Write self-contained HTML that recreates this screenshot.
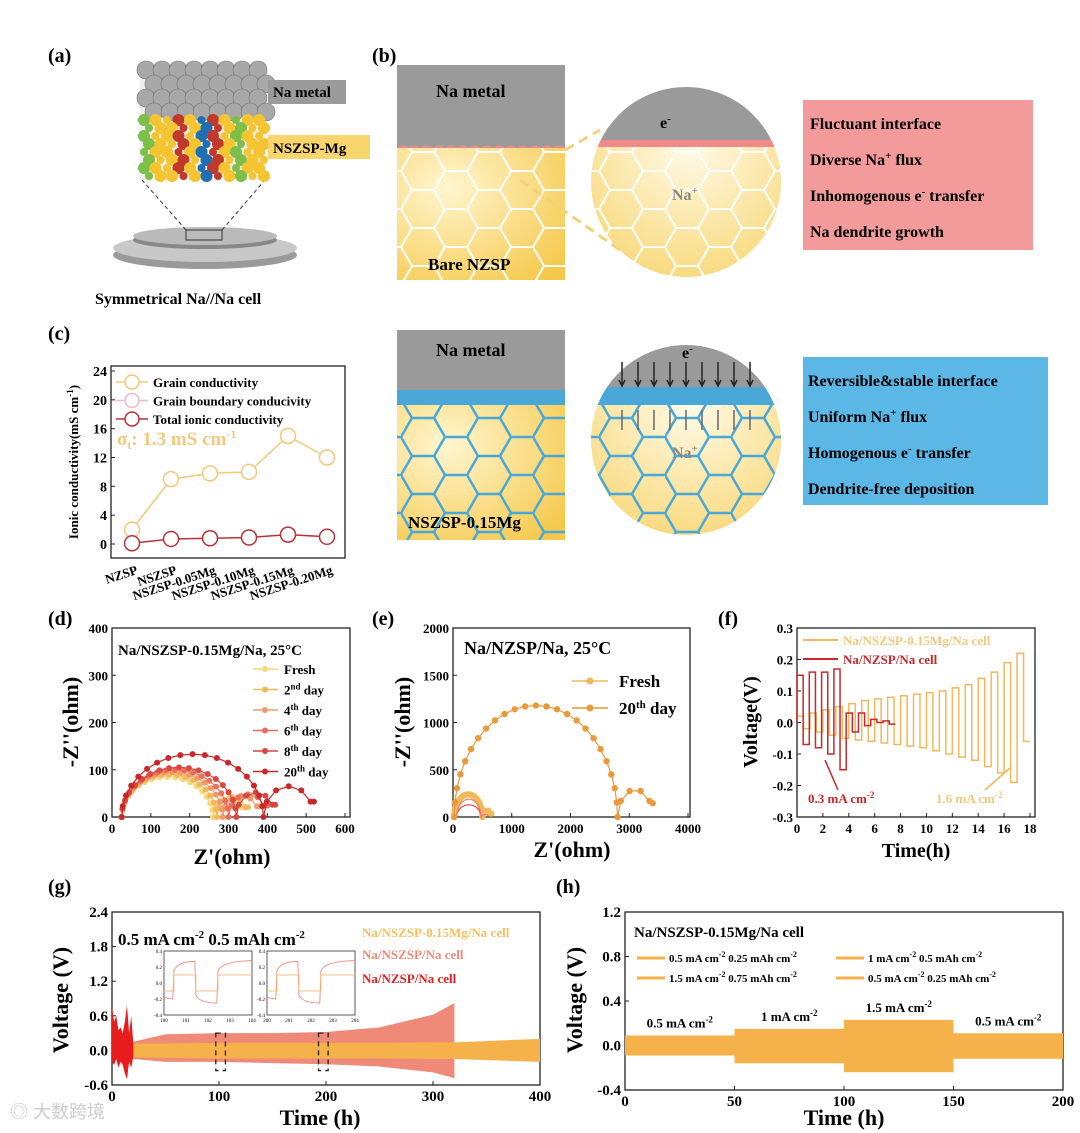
<!DOCTYPE html>
<html><head><meta charset="utf-8">
<style>
html,body{margin:0;padding:0;background:#fff;}
svg{display:block;font-family:"Liberation Serif",serif;}
.b{font-weight:bold;}
</style></head>
<body>
<svg id="fig" width="1080" height="1133" viewBox="0 0 1080 1133" xmlns="http://www.w3.org/2000/svg">
<defs>
<pattern id="hexY" width="66" height="38" patternUnits="userSpaceOnUse" x="5" y="0">
<path d="M0,19 L11,0 L33,0 L44,19 L33,38 L11,38 Z M44,19 L66,19" fill="none" stroke="#fff" stroke-width="2"/>
</pattern>
<pattern id="hexB" width="66" height="38" patternUnits="userSpaceOnUse" x="5" y="0">
<path d="M0,19 L11,0 L33,0 L44,19 L33,38 L11,38 Z M44,19 L66,19" fill="none" stroke="#4aa8d8" stroke-width="2.5"/>
</pattern>
<radialGradient id="yel" cx="0.3" cy="0.3" r="0.9"><stop offset="0" stop-color="#fff6d0"/><stop offset="1" stop-color="#f5c84a"/></radialGradient>
<radialGradient id="yel2" cx="0.5" cy="0.3" r="0.8"><stop offset="0" stop-color="#fffbe8"/><stop offset="1" stop-color="#f7d36a"/></radialGradient>
<clipPath id="c1"><circle cx="686" cy="182" r="95"/></clipPath>
<clipPath id="c2"><circle cx="686" cy="440" r="95"/></clipPath>
</defs>

<text x="48" y="62" font-size="20" class="b">(a)</text>
<text x="372" y="62" font-size="20" class="b">(b)</text>
<text x="48" y="340" font-size="20" class="b">(c)</text>
<text x="48" y="625" font-size="20" class="b">(d)</text>
<text x="372" y="625" font-size="20" class="b">(e)</text>
<text x="718" y="625" font-size="20" class="b">(f)</text>
<text x="48" y="893" font-size="20" class="b">(g)</text>
<text x="556" y="893" font-size="20" class="b">(h)</text>

<g id="pa">
<ellipse cx="205" cy="255" rx="92" ry="14" fill="#9a9a9a"/>
<ellipse cx="205" cy="248" rx="92" ry="14" fill="#c8c8c8"/>
<ellipse cx="205" cy="240" rx="72" ry="9" fill="#888"/>
<ellipse cx="205" cy="236" rx="72" ry="9" fill="#bbb"/>
<rect x="186" y="230" width="36" height="10" fill="none" stroke="#333"/>
<line x1="186" y1="230" x2="142" y2="180" stroke="#333" stroke-dasharray="4,3"/>
<line x1="222" y1="230" x2="265" y2="180" stroke="#333" stroke-dasharray="4,3"/>
<rect x="140" y="62" width="126" height="118" fill="#eee"/>
<g id="atoms"></g>
<rect x="268" y="80" width="78" height="24" fill="#9b9b9b"/>
<text x="273" y="97" font-size="15" class="b">Na metal</text>
<rect x="268" y="135" width="102" height="24" fill="#f9d56e"/>
<text x="273" y="153" font-size="15" class="b">NSZSP-Mg</text>
<text x="95" y="304" font-size="16" class="b">Symmetrical Na//Na cell</text>
</g>

<g>
<rect x="397" y="148" width="168" height="132" fill="url(#yel)"/>
<rect x="397" y="148" width="168" height="132" fill="url(#hexY)"/>
<rect x="397" y="65" width="168" height="83" fill="#9a9a9a"/>
<path d="M397,148 q6,-5 12,0 q6,-5 12,0 q6,-5 12,0 q6,-5 12,0 q6,-5 12,0 q6,-5 12,0 q6,-5 12,0 q6,-5 12,0 q6,-5 12,0 q6,-5 12,0 q6,-5 12,0 q6,-5 12,0 q6,-5 12,0 q6,-5 12,0" fill="#f08a8a"/>
<text x="436" y="97" font-size="18" class="b">Na metal</text>
<text x="428" y="270" font-size="17" class="b">Bare NZSP</text>
<line x1="565" y1="150" x2="600" y2="130" stroke="#f2d27a" stroke-width="3" stroke-dasharray="10,6"/>
<line x1="520" y1="180" x2="620" y2="250" stroke="#f2d27a" stroke-width="3" stroke-dasharray="10,6"/>
<g clip-path="url(#c1)">
<rect x="590" y="85" width="200" height="200" fill="url(#yel2)"/>
<rect x="590" y="85" width="200" height="200" fill="url(#hexY)"/>
<rect x="590" y="85" width="200" height="60" fill="#9a9a9a"/>
<rect x="590" y="140" width="200" height="7" fill="#f08a8a"/>
</g>
<text x="660" y="128" font-size="16" class="b">e<tspan dy="-6" font-size="11">-</tspan></text>
<text x="672" y="200" font-size="16" fill="#888" class="b">Na<tspan dy="-6" font-size="11">+</tspan></text>
<rect x="803" y="100" width="230" height="150" fill="#f39a9a"/>
<g font-size="16" class="b">
<text x="810" y="129">Fluctuant interface</text>
<text x="810" y="165">Diverse Na<tspan dy="-6" font-size="11">+</tspan><tspan dy="6"> flux</tspan></text>
<text x="810" y="201">Inhomogenous e<tspan dy="-6" font-size="11">-</tspan><tspan dy="6"> transfer</tspan></text>
<text x="810" y="237">Na dendrite growth</text>
</g>
</g>

<g>
<rect x="397" y="405" width="168" height="135" fill="url(#yel)"/>
<rect x="397" y="405" width="168" height="135" fill="url(#hexB)"/>
<rect x="397" y="330" width="168" height="60" fill="#9a9a9a"/>
<rect x="397" y="390" width="168" height="15" fill="#4aa8d8"/>
<text x="436" y="356" font-size="18" class="b">Na metal</text>
<text x="408" y="528" font-size="17" class="b">NSZSP-0.15Mg</text>
<g clip-path="url(#c2)">
<rect x="590" y="345" width="200" height="200" fill="url(#yel2)"/>
<rect x="590" y="345" width="200" height="200" fill="url(#hexB)"/>
<rect x="590" y="345" width="200" height="42" fill="#9a9a9a"/>
<rect x="590" y="387" width="200" height="18" fill="#4aa8d8"/>
</g>
<text x="682" y="358" font-size="16" class="b">e<tspan dy="-6" font-size="11">-</tspan></text>
<text x="672" y="458" font-size="16" fill="#888" class="b">Na<tspan dy="-6" font-size="11">+</tspan></text>
<g id="arrows2" stroke="#222" stroke-width="1.5"></g>
<rect x="803" y="357" width="245" height="148" fill="#5bb8e6"/>
<g font-size="16" class="b">
<text x="808" y="386">Reversible&amp;stable interface</text>
<text x="808" y="422">Uniform Na<tspan dy="-6" font-size="11">+</tspan><tspan dy="6"> flux</tspan></text>
<text x="808" y="458">Homogenous e<tspan dy="-6" font-size="11">-</tspan><tspan dy="6"> transfer</tspan></text>
<text x="808" y="494">Dendrite-free deposition</text>
</g>
</g>

<g id="charts"></g>
</svg>

<script>
const cCategories = ["NZSP","NSZSP","NSZSP-0.05Mg","NSZSP-0.10Mg","NSZSP-0.15Mg","NSZSP-0.20Mg"];
const cGrain = [2, 9, 9.8, 10, 15, 12];
const cTotal = [0.1, 0.7, 0.8, 0.9, 1.3, 1.0];
const cYTicks = [0,4,8,12,16,20,24];

const dLabels = ["Fresh","2nd day","4th day","6th day","8th day","20th day"];
const dArcEnd = [260, 270, 285, 300, 320, 390];
const dArcPeak = [85, 90, 95, 100, 105, 133];
const dTailEnd = [340, 350, 380, 400, 420, 520];
const dTailPeak = [40, 42, 45, 48, 52, 65];
const dXTicks = [0,100,200,300,400,500,600];
const dYTicks = [0,100,200,300,400];

const eLabels = ["Fresh","20th day"];
const eArcEnd = [500, 2800];
const eArcPeak = [240, 1180];
const eTailEnd = [650, 3400];
const eTailPeak = [70, 290];
const eXTicks = [0,1000,2000,3000,4000];
const eYTicks = [0,500,1000,1500,2000];

const fOrangeUp = [0.02,0.03,0.04,0.05,0.06,0.07,0.075,0.08,0.085,0.09,0.095,0.1,0.11,0.12,0.14,0.16,0.19,0.22];
const fOrangeDn = [-0.02,-0.03,-0.04,-0.05,-0.055,-0.06,-0.065,-0.07,-0.075,-0.08,-0.09,-0.1,-0.11,-0.12,-0.14,-0.16,-0.19,-0.06];
const fRedUp = [0.15,0.16,0.16,0.17,0.03,0.03,0.01,0.005];
const fRedDn = [-0.07,-0.08,-0.1,-0.15,-0.03,-0.01,0,-0.005];
const fXTicks = [0,2,4,6,8,10,12,14,16,18];
const fYTicks = [-0.3,-0.2,-0.1,0,0.1,0.2,0.3];

const gTimes = [0,20,50,100,150,200,250,300,320,400];
const gSalmonUp = [0.15,0.15,0.28,0.3,0.3,0.32,0.4,0.62,0.82,null];
const gSalmonDn = [-0.15,-0.15,-0.2,-0.2,-0.22,-0.24,-0.28,-0.38,-0.48,null];
const gOrangeUp = [0.12,0.12,0.12,0.13,0.13,0.13,0.13,0.14,0.14,0.2];
const gOrangeDn = [-0.12,-0.12,-0.13,-0.14,-0.14,-0.14,-0.14,-0.15,-0.15,-0.2];
const gRedTimes = [0,2,4,6,8,10,12,14,16,18,20];
const gRedUp = [0.75,0.5,0.6,0.35,0.4,0.3,0.5,0.78,0.3,0.6,0.1];
const gRedDn = [-0.2,-0.25,-0.15,-0.3,-0.2,-0.25,-0.4,-0.5,-0.2,-0.3,-0.1];
const gXTicks = [0,100,200,300,400];
const gYTicks = [-0.6,0,0.6,1.2,1.8,2.4];

const hSegStart = [0,50,100,150];
const hSegEnd = [50,100,150,200];
const hUp = [0.09,0.15,0.23,0.11];
const hDn = [-0.09,-0.16,-0.24,-0.12];
const hSegLabels = ["0.5 mA cm","1 mA cm","1.5 mA cm","0.5 mA cm"];
const hLegend = ["0.5 mA cm-2 0.25 mAh cm-2","1 mA cm-2 0.5 mAh cm-2","1.5 mA cm-2 0.75 mAh cm-2","0.5 mA cm-2 0.25 mAh cm-2"];
const hXTicks = [0,50,100,150,200];
const hYTicks = [-0.4,0,0.4,0.8,1.2];

const NS="http://www.w3.org/2000/svg";
const root=document.getElementById('charts');
function mk(tag,attrs,parent){const e=document.createElementNS(NS,tag);for(const k in attrs)e.setAttribute(k,attrs[k]);(parent||root).appendChild(e);return e;}
function lin(d0,d1,r0,r1){return v=>r0+(v-d0)*(r1-r0)/(d1-d0);}

(function(){
 const g=document.getElementById('atoms');
 for(let r=0;r<4;r++)for(let c=0;c<8;c++){
  mk('circle',{cx:146+c*16+(r%2)*8,cy:70+r*14,r:9,fill:'#a8a8a8',stroke:'#777','stroke-width':0.6},g);
 }
 const cols=['#f5c431','#f5c431','#f5c431','#c0392b','#c0392b','#7cc04a','#1f6fb5','#f5c431'];
 let k=0;
 for(let r=0;r<8;r++)for(let c=0;c<11;c++){k++;
  mk('circle',{cx:144+c*11.5+(r%2)*5,cy:120+r*8,r:(k%3?6:4),fill:cols[(k*5+r)%8]},g);
 }
 const ar=document.getElementById('arrows2');
 for(let i=0;i<9;i++){const x=622+i*16;
  mk('line',{x1:x,y1:362,x2:x,y2:384},ar); mk('path',{d:`M${x-3},${380} L${x},${386} L${x+3},${380}`,fill:'none'},ar);
  mk('line',{x1:x,y1:430,x2:x,y2:410,stroke:'#666'},ar);
 }
})();

function axes(o){
 const g=mk('g',{});
 
 
 mk('rect',{x:o.x0,y:o.y0,width:o.x1-o.x0,height:o.y1-o.y0,fill:'none',stroke:'#222','stroke-width':1.3},g);
 o.xticks.forEach(v=>{const x=o.xs(v);
  mk('line',{x1:x,y1:o.y1,x2:x,y2:o.y1-4,stroke:'#222'},g);
  const t=mk('text',{x:x,y:o.y1+16,'font-size':o.tfs||14,'text-anchor':'middle','font-weight':'bold'},g);t.textContent=o.fmtx?o.fmtx(v):v;
  
  
 });
 o.yticks.forEach(v=>{const y=o.ys(v);
  mk('line',{x1:o.x0,y1:y,x2:o.x0+4,y2:y,stroke:'#222'},g);
  const t=mk('text',{x:o.x0-4,y:y+5,'font-size':o.tfs||14,'text-anchor':'end','font-weight':'bold'},g);t.textContent=o.fmty?o.fmty(v):v;
  
  
 });
 return g;
}
function txt(x,y,s,attrs,name){const t=mk('text',Object.assign({x:x,y:y,'font-weight':'bold'},attrs||{}));t.textContent=s;
 
 
 return t;}

(function(){
 const xs=i=>132+i*39, ys=lin(0,24,544,371);
 axes({x0:111,x1:345,y0:366,y1:558,xs:xs,ys:ys,xticks:[],yticks:cYTicks,name:'c',tfs:14});
 cCategories.forEach((c,i)=>{const t=txt(xs(i)+4,566,c,{'font-size':13,'text-anchor':'end',transform:`rotate(-18 ${xs(i)+4} 566)`},'x-category-label');t.setAttribute('dy','8');});
 const ly=txt(78,462,'Ionic conductivity(mS cm',{'font-size':13,'text-anchor':'middle',transform:'rotate(-90 78 462)'},'c-y-axis-title');
 const sup=mk('tspan',{dy:-5,'font-size':9},ly);sup.textContent='-1';const cl=mk('tspan',{dy:5},ly);cl.textContent=')';
 const lg=mk('path',{d:cGrain.map((v,i)=>(i?'L':'M')+xs(i)+','+ys(v)).join(' '),fill:'none',stroke:'#f2c97a','stroke-width':1.5});
 
 
 cGrain.forEach((v,i)=>{const p=mk('circle',{cx:xs(i),cy:ys(v),r:7.5,fill:'#fff',stroke:'#f2c97a','stroke-width':1.5});
  
  });
 const lt=mk('path',{d:cTotal.map((v,i)=>(i?'L':'M')+xs(i)+','+ys(v)).join(' '),fill:'none',stroke:'#b8323a','stroke-width':1.5});
 
 
 cTotal.forEach((v,i)=>{const p=mk('circle',{cx:xs(i),cy:ys(v),r:7.5,fill:'#fff',stroke:'#b8323a','stroke-width':1.5});
  
  });
 [['Grain conductivity','#f2c97a'],['Grain boundary conducivity','#f2b8c8'],['Total ionic conductivity','#b8323a']].forEach((l,i)=>{
  const y=382+i*18.5;
  mk('line',{x1:116,y1:y,x2:148,y2:y,stroke:l[1],'stroke-width':1.5});
  mk('circle',{cx:132,cy:y,r:7,fill:'#fff',stroke:l[1],'stroke-width':1.5});
  txt(153,y+5,l[0],{'font-size':13},'legend-entry');
 });
 const s=txt(117,445,'σ',{'font-size':19,fill:'#f2c97a'},'sigma-annotation');
 const sb=mk('tspan',{dy:4,'font-size':12},s);sb.textContent='t';const r=mk('tspan',{dy:-4},s);r.textContent=': 1.3 mS cm';
 const sp=mk('tspan',{dy:-7,'font-size':12},s);sp.textContent='-1';
})();

function nyq(start,end,peak,tEnd,tPeak,n,m){
 const pts=[];const c=(start+end)/2,R=(end-start)/2;
 for(let k=0;k<=n;k++){const a=Math.PI-Math.PI*k/n;pts.push([c+R*Math.cos(a),peak*Math.sin(a)]);}
 const c2=(end+tEnd)/2,R2=(tEnd-end)/2;
 for(let k=1;k<=m;k++){const a=Math.PI-Math.PI*k/m;pts.push([c2+R2*Math.cos(a),tPeak*Math.sin(a)+(k===m?tPeak*0.5:0)]);}
 return pts;
}
(function(){
 const xs=lin(0,600,112,345), ys=lin(0,400,817,628);
 axes({x0:112,x1:350,y0:628,y1:817,xs:xs,ys:ys,xticks:dXTicks,yticks:dYTicks,name:'d',tfs:13});
 txt(232,864,"Z'(ohm)",{'font-size':22,'text-anchor':'middle'},'d-x-axis-title');
 txt(78,722,"-Z''(ohm)",{'font-size':22,'text-anchor':'middle',transform:'rotate(-90 78 722)'},'d-y-axis-title');
 txt(118,655,'Na/NSZSP-0.15Mg/Na, 25°C',{'font-size':15},'d-annotation');
 const cols=['#f7d77a','#f2b85a','#ef9a6a','#e8705a','#d9473f','#c8282a'];
 dLabels.forEach((l,i)=>{
  const pts=nyq(25,dArcEnd[i],dArcPeak[i],dTailEnd[i],dTailPeak[i],18,6);
  const p=mk('path',{d:pts.map((q,k)=>(k?'L':'M')+xs(q[0])+','+ys(q[1])).join(' '),fill:'none',stroke:cols[i],'stroke-width':1.2});
  
  
  pts.forEach(q=>mk('circle',{cx:xs(q[0]),cy:ys(q[1]),r:3,fill:cols[i]}));
  const y=669+i*20.5;
  mk('line',{x1:253,y1:y,x2:278,y2:y,stroke:cols[i],'stroke-width':1.5});
  mk('circle',{cx:265,cy:y,r:3,fill:cols[i]});
  const parts=l.split(' ');const t=txt(284,y+5,parts[0].replace(/(nd|th)$/,''),{'font-size':13},'legend-entry');
  if(parts.length>1){const s=mk('tspan',{dy:-5,'font-size':9},t);s.textContent=parts[0].match(/(nd|th)$/)[0];const s2=mk('tspan',{dy:5},t);s2.textContent=' day';}
 });
})();

(function(){
 const xs=lin(0,4000,453,688), ys=lin(0,2000,817,628);
 axes({x0:453,x1:690,y0:628,y1:817,xs:xs,ys:ys,xticks:eXTicks,yticks:eYTicks,name:'e',tfs:13});
 txt(572,857,"Z'(ohm)",{'font-size':22,'text-anchor':'middle'},'e-x-axis-title');
 txt(410,722,"-Z''(ohm)",{'font-size':22,'text-anchor':'middle',transform:'rotate(-90 410 722)'},'e-y-axis-title');
 txt(464,654,'Na/NZSP/Na, 25°C',{'font-size':18},'e-annotation');
 const cols=['#f2b85a','#ea9a3a'];
 eLabels.forEach((l,i)=>{
  const pts=nyq(20,eArcEnd[i],eArcPeak[i],eTailEnd[i],eTailPeak[i],24,5);
  const p=mk('path',{d:pts.map((q,k)=>(k?'L':'M')+xs(q[0])+','+ys(q[1])).join(' '),fill:'none',stroke:cols[i],'stroke-width':1.2});
  
  
  pts.forEach(q=>mk('circle',{cx:xs(q[0]),cy:ys(q[1]),r:3.2,fill:cols[i]}));
  const y=681+i*27;
  mk('line',{x1:572,y1:y,x2:608,y2:y,stroke:cols[i],'stroke-width':1.5});
  mk('circle',{cx:590,cy:y,r:3.5,fill:cols[i]});
 });
 txt(619,687,'Fresh',{'font-size':17},'legend-entry');
 const t=txt(619,714,'20',{'font-size':17},'legend-entry');const s=mk('tspan',{dy:-6,'font-size':11},t);s.textContent='th';const s2=mk('tspan',{dy:6},t);s2.textContent=' day';
 [[130,'#e04848'],[190,'#f08070']].forEach(a=>{
  const pts=nyq(60,480,a[0],600,30,10,3);
  const p=mk('path',{d:pts.map((q,k)=>(k?'L':'M')+xs(q[0])+','+ys(q[1])).join(' '),fill:'none',stroke:a[1],'stroke-width':1.2});
  
  
 });
})();

(function(){
 const xs=lin(0,18,797,1030), ys=lin(-0.3,0.3,817,628);
 axes({x0:797,x1:1035,y0:628,y1:817,xs:xs,ys:ys,xticks:fXTicks,yticks:fYTicks,name:'f',tfs:13,fmty:v=>v.toFixed(1)});
 txt(916,857,'Time(h)',{'font-size':20,'text-anchor':'middle'},'f-x-axis-title');
 txt(757,722,'Voltage(V)',{'font-size':20,'text-anchor':'middle',transform:'rotate(-90 757 722)'},'f-y-axis-title');
 function sq(up,dn,period){let d=`M${xs(0)},${ys(0)}`;up.forEach((u,i)=>{const t0=i*period,t1=t0+period/2,t2=t0+period;
  d+=` L${xs(t0)},${ys(u)} L${xs(t1)},${ys(u)} L${xs(t1)},${ys(dn[i])} L${xs(t2)},${ys(dn[i])}`;});return d;}
 const o=mk('path',{d:sq(fOrangeUp,fOrangeDn,1),fill:'none',stroke:'#f2b85a','stroke-width':1.5});
 
 
 const r=mk('path',{d:sq(fRedUp,fRedDn,0.95),fill:'none',stroke:'#c8282a','stroke-width':1.5});
 
 
 mk('line',{x1:803,y1:640,x2:838,y2:640,stroke:'#f2b85a','stroke-width':2});
 txt(843,645,'Na/NSZSP-0.15Mg/Na cell',{'font-size':13,fill:'#f2c97a'},'legend-entry');
 mk('line',{x1:803,y1:659,x2:838,y2:659,stroke:'#c8282a','stroke-width':2});
 txt(843,664,'Na/NZSP/Na cell',{'font-size':13,fill:'#c8282a'},'legend-entry');
 const a=txt(808,803,'0.3 mA cm',{'font-size':13,fill:'#c8282a'},'f-annotation-red');const as=mk('tspan',{dy:-5,'font-size':9},a);as.textContent='-2';
 mk('line',{x1:838,y1:790,x2:825,y2:760,stroke:'#c8282a','stroke-width':1.5});
 const b=txt(936,803,'1.6 mA cm',{'font-size':13,fill:'#f2c97a'},'f-annotation-orange');const bs=mk('tspan',{dy:-5,'font-size':9},b);bs.textContent='-2';
 mk('line',{x1:985,y1:790,x2:1010,y2:768,stroke:'#f2b85a','stroke-width':1.5});
})();

(function(){
 const xs=lin(0,400,112,540), ys=lin(-0.6,2.4,1085,912);
 axes({x0:112,x1:540,y0:912,y1:1085,xs:xs,ys:ys,xticks:gXTicks,yticks:gYTicks,name:'g',tfs:15,fmty:v=>v.toFixed(1)});
 txt(320,1125,'Time (h)',{'font-size':22,'text-anchor':'middle'},'g-x-axis-title');
 txt(68,1000,'Voltage (V)',{'font-size':22,'text-anchor':'middle',transform:'rotate(-90 68 1000)'},'g-y-axis-title');
 function band(times,up,dn,color,name){const idx=times.map((t,i)=>i).filter(i=>up[i]!==null);
  let d=idx.map((i,k)=>(k?'L':'M')+xs(times[i])+','+ys(up[i])).join(' ');
  d+=' '+idx.slice().reverse().map(i=>'L'+xs(times[i])+','+ys(dn[i])).join(' ')+'Z';
  const p=mk('path',{d:d,fill:color});
  
  }
 band(gTimes,gSalmonUp,gSalmonDn,'#f08a78','nszsp-voltage-band');
 band(gTimes,gOrangeUp,gOrangeDn,'#f5b24a','nszsp-mg-voltage-band');
 band(gRedTimes,gRedUp,gRedDn,'#e81c1c','nzsp-voltage-band');
 [[97,106],[193,202]].forEach(r=>{mk('rect',{x:xs(r[0]),y:ys(0.3),width:xs(r[1])-xs(r[0]),height:ys(-0.35)-ys(0.3),fill:'none',stroke:'#222','stroke-dasharray':'5,4','stroke-width':1.3});});
 const t=txt(118,945,'0.5 mA cm',{'font-size':17},'g-annotation');let s=mk('tspan',{dy:-7,'font-size':11},t);s.textContent='-2';s=mk('tspan',{dy:7},t);s.textContent=' 0.5 mAh cm';s=mk('tspan',{dy:-7,'font-size':11},t);s.textContent='-2';
 txt(362,937,'Na/NSZSP-0.15Mg/Na cell',{'font-size':13,fill:'#f5c060'},'legend-entry');
 txt(362,959,'Na/NSZSP/Na cell',{'font-size':13,fill:'#f08a78'},'legend-entry');
 txt(362,983,'Na/NZSP/Na cell',{'font-size':13,fill:'#e02020'},'legend-entry');
 [[164,'100','101','102','103','104'],[267,'200','201','202','203','204']].forEach(ins=>{
  const x0=ins[0],y0=951,w=88,h=64;
  const g=mk('g',{});
  
  
  mk('rect',{x:x0,y:y0,width:w,height:h,fill:'#fff',stroke:'#333','stroke-width':0.8},g);
  const yy=lin(-0.4,0.4,y0+h,y0);
  ['0.4','0.2','0.0','-0.2','-0.4'].forEach(l=>{const t=mk('text',{x:x0-2,y:yy(parseFloat(l))+2,'font-size':5,'text-anchor':'end'},g);t.textContent=l;});
  ins.slice(1).forEach((l,i)=>{const t=mk('text',{x:x0+i*w/4,y:y0+h+7,'font-size':5,'text-anchor':'middle'},g);t.textContent=l;});
  const q=w/4;
  mk('path',{d:`M${x0},${yy(-0.18)} L${x0+q*0.4},${yy(-0.2)} L${x0+q*0.45},${yy(0.15)} Q${x0+q*0.6},${yy(0.27)} ${x0+q*1.4},${yy(0.27)} L${x0+q*1.45},${yy(-0.15)} Q${x0+q*1.6},${yy(-0.25)} ${x0+q*2.4},${yy(-0.25)} L${x0+q*2.45},${yy(0.15)} Q${x0+q*2.6},${yy(0.27)} ${x0+w},${yy(0.28)}`,fill:'none',stroke:'#f08a78','stroke-width':0.9},g);
  mk('path',{d:`M${x0},${yy(-0.1)} L${x0+q*0.45},${yy(-0.1)} L${x0+q*0.45},${yy(0.1)} L${x0+q*1.45},${yy(0.1)} L${x0+q*1.45},${yy(-0.1)} L${x0+q*2.45},${yy(-0.1)} L${x0+q*2.45},${yy(0.1)} L${x0+w},${yy(0.1)}`,fill:'none',stroke:'#f5c080','stroke-width':0.9},g);
 });
})();

(function(){
 const xs=lin(0,200,625,1063), ys=lin(-0.4,1.2,1090,912);
 axes({x0:625,x1:1063,y0:912,y1:1090,xs:xs,ys:ys,xticks:hXTicks,yticks:hYTicks,name:'h',tfs:15,fmty:v=>v.toFixed(1)});
 txt(844,1125,'Time (h)',{'font-size':22,'text-anchor':'middle'},'h-x-axis-title');
 txt(582,1000,'Voltage (V)',{'font-size':22,'text-anchor':'middle',transform:'rotate(-90 582 1000)'},'h-y-axis-title');
 hSegStart.forEach((s,i)=>{const r=mk('rect',{x:xs(s),y:ys(hUp[i]),width:xs(hSegEnd[i])-xs(s),height:ys(hDn[i])-ys(hUp[i]),fill:'#f5b24a'});
  
  
  const t=txt((xs(s)+xs(hSegEnd[i]))/2,ys(hUp[i])-8,hSegLabels[i],{'font-size':13,'text-anchor':'middle'},'segment-label');
  const sp=mk('tspan',{dy:-5,'font-size':9},t);sp.textContent='-2';});
 txt(634,937,'Na/NSZSP-0.15Mg/Na cell',{'font-size':15},'h-annotation');
 hLegend.forEach((l,i)=>{const x=i%2?836:637,y=962+Math.floor(i/2)*20;
  mk('line',{x1:x,y1:y-4,x2:x+28,y2:y-4,stroke:'#f5b24a','stroke-width':3});
  const p=l.split(' ');
  const t=txt(x+32,y,p[0]+' mA cm',{'font-size':11},'legend-entry');let s=mk('tspan',{dy:-5,'font-size':8},t);s.textContent='-2';
  s=mk('tspan',{dy:5},t);s.textContent=' '+p[3]+' mAh cm';s=mk('tspan',{dy:-5,'font-size':8},t);s.textContent='-2';});
})();

txt(10,1118,'◎ 大数跨境',{'font-size':18,fill:'#ccc','font-family':'"Liberation Sans","Noto Sans CJK SC",sans-serif','font-weight':'normal'},'watermark');
</script>
</body></html>
